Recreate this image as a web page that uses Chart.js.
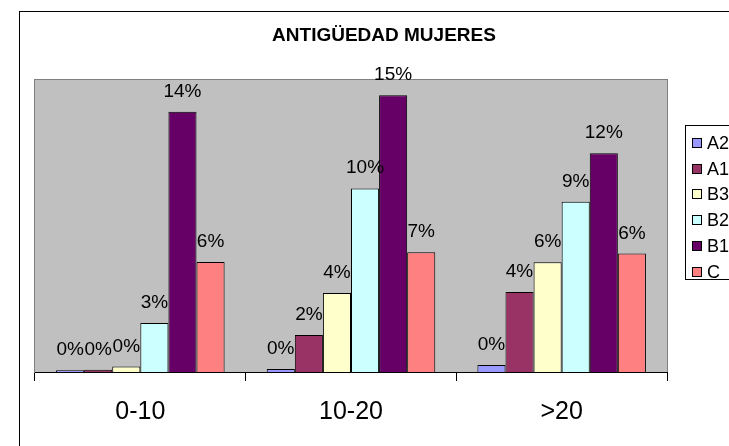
<!DOCTYPE html>
<html>
<head>
<meta charset="utf-8">
<script src="https://cdn.jsdelivr.net/npm/chart.js@4.4.0/dist/chart.umd.min.js"></script>
<style>
    html, body { margin: 0; padding: 0; overflow: hidden; background: #fff; }
    #wrap { width: 760px; height: 446px; }
</style>
</head>
<body>
<div id="wrap"><canvas id="chart" width="760" height="446"></canvas></div>
<script>
// categories and series (shares of total)
var categories = ['0-10', '10-20', '>20'];
var seriesNames = ['A2', 'A1', 'B3', 'B2', 'B1', 'C'];
var a2 = [0.0010, 0.0017, 0.0038];
var a1 = [0.0012, 0.0203, 0.0438];
var b3 = [0.0030, 0.0433, 0.0601];
var b2 = [0.0268, 0.1006, 0.0933];
var b1 = [0.1426, 0.1517, 0.1198];
var c = [0.0603, 0.0656, 0.0649];
var yMax = 0.16;

var seriesColors = ['#9999FF', '#993366', '#FFFFCC', '#CCFFFF', '#660066', '#FF8080'];
var FONT = '"Liberation Sans", Arial, sans-serif';

var frame = {
    id: 'frame',
    beforeDraw: function (chart) {
        var ctx = chart.ctx, a = chart.chartArea;
        ctx.save();
        ctx.fillStyle = '#fff';
        ctx.fillRect(0, 0, chart.width, chart.height);
        // outer chart border
        ctx.strokeStyle = '#000';
        ctx.lineWidth = 1;
        ctx.strokeRect(19.5, 11.5, 730, 460);
        // plot area
        ctx.fillStyle = '#C0C0C0';
        ctx.fillRect(a.left, a.top, a.right - a.left, a.bottom - a.top);
        ctx.strokeStyle = '#808080';
        ctx.strokeRect(a.left - 0.5, a.top - 0.5, a.right - a.left + 1, a.bottom - a.top + 1);
        // title
        ctx.fillStyle = '#000';
        ctx.font = 'bold 19px ' + FONT;
        ctx.textAlign = 'center';
        ctx.textBaseline = 'middle';
        ctx.fillText('ANTIGÜEDAD MUJERES', 384, 36);
        ctx.restore();
    },
    afterDatasetsDraw: function (chart) {
        // value labels above each bar
        var ctx = chart.ctx;
        ctx.save();
        ctx.fillStyle = '#000';
        ctx.font = '19px ' + FONT;
        ctx.textAlign = 'center';
        ctx.textBaseline = 'alphabetic';
        chart.data.datasets.forEach(function (ds, i) {
            chart.getDatasetMeta(i).data.forEach(function (bar, j) {
                ctx.fillText(Math.round(ds.data[j] * 100) + '%', bar.x, bar.y - 15);
            });
        });
        ctx.restore();
    },
    afterDraw: function (chart) {
        // legend box (runs past the right edge like the original)
        var ctx = chart.ctx;
        ctx.save();
        ctx.strokeStyle = '#000';
        ctx.lineWidth = 1;
        ctx.fillStyle = '#fff';
        ctx.fillRect(686, 126, 60, 154);
        ctx.strokeRect(685.5, 125.5, 60, 154);
        ctx.font = '18px ' + FONT;
        ctx.textAlign = 'left';
        ctx.textBaseline = 'middle';
        chart.data.datasets.forEach(function (ds, i) {
            var cy = Math.round(143 + i * 25.7);
            ctx.fillStyle = ds.backgroundColor;
            ctx.fillRect(692, cy - 5, 10, 10);
            ctx.strokeRect(692.5, cy - 4.5, 9, 9);
            ctx.fillStyle = '#000';
            ctx.fillText(ds.label, 707, cy + 1);
        });
        ctx.restore();
    }
};

var seriesData = [a2, a1, b3, b2, b1, c];

new Chart(document.getElementById('chart').getContext('2d'), {
    type: 'bar',
    data: {
        labels: categories,
        datasets: seriesNames.map(function (name, i) {
            return {
                label: name,
                data: seriesData[i],
                backgroundColor: seriesColors[i],
                borderColor: '#000',
                borderWidth: 1,
                categoryPercentage: 0.8,
                barPercentage: 1.0
            };
        })
    },
    options: {
        responsive: false,
        animation: false,
        layout: { padding: { left: 35, right: 93, top: 80, bottom: 0 } },
        plugins: {
            legend: { display: false },
            tooltip: { enabled: false },
            title: { display: false }
        },
        scales: {
            x: {
                grid: { display: true, drawOnChartArea: false, drawTicks: true, tickLength: 9, color: '#000', offset: true },
                border: { display: true, color: '#000', width: 1 },
                ticks: { color: '#000', font: { family: FONT, size: 25 }, padding: 16, maxRotation: 0 },
                afterFit: function (scale) { scale.height = 74; }
            },
            y: { display: false, min: 0, max: yMax }
        }
    },
    plugins: [frame]
});
</script>
</body>
</html>
